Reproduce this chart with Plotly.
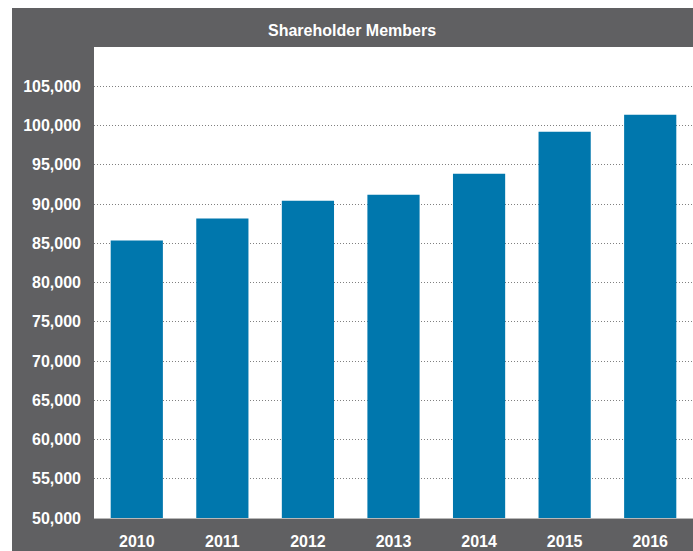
import plotly.graph_objects as go

years = ["2010", "2011", "2012", "2013", "2014", "2015", "2016"]
members = [85340, 88140, 90420, 91180, 93860, 99200, 101360]
tick_values = [50000, 55000, 60000, 65000, 70000, 75000, 80000, 85000,
               90000, 95000, 100000, 105000]
tick_labels = [f"{v:,}" for v in tick_values]
title_text = "Shareholder Members"

FRAME = "#606062"
BAR = "#0077ad"
FONT = "Liberation Sans, Arial, sans-serif"

W, H = 693, 551
L, R, T, B = 94, 0, 47, 33
pw, ph = W - L - R, H - T - B


def px_x(p):
    return (p - L) / pw


def px_y(p):
    return (H - B - p) / ph


fig = go.Figure(go.Bar(
    x=years, y=members, marker=dict(color=BAR, line=dict(width=0)),
    hoverinfo="x+y",
))

# dark frame, then the white plotting panel on top of it
fig.add_shape(type="rect", xref="paper", yref="paper",
              x0=px_x(12), x1=px_x(W + 2), y0=px_y(H + 2), y1=px_y(8),
              fillcolor=FRAME, line=dict(width=0), layer="below")
fig.add_shape(type="rect", xref="paper", yref="paper",
              x0=0, x1=1, y0=0, y1=1,
              fillcolor="white", line=dict(width=0), layer="below")

fig.add_annotation(text=f"<b>{title_text}</b>", xref="paper", yref="paper",
                   x=px_x(352), y=px_y(30), showarrow=False,
                   font=dict(family=FONT, size=16, color="white"),
                   xanchor="center", yanchor="middle")

fig.update_layout(
    width=W, height=H,
    margin=dict(l=L, r=R, t=T, b=B),
    paper_bgcolor="white", plot_bgcolor="white",
    bargap=0.39, showlegend=False,
    font=dict(family=FONT, color="white"),
)
fig.update_yaxes(
    range=[50000, 110000], tickvals=tick_values,
    ticktext=[f"<b>{t}</b>" for t in tick_labels],
    tickfont=dict(size=16, color="white", family=FONT),
    showgrid=True, gridcolor="#808080", griddash="1px,2px", gridwidth=1,
    zeroline=False, showline=False, ticks="", ticklabelstandoff=12,
)
fig.update_xaxes(
    tickvals=years, ticktext=[f"<b>{y}</b>" for y in years],
    tickfont=dict(size=16, color="white", family=FONT),
    showgrid=False, showline=True, linecolor="#b8b8b8", linewidth=1,
    ticks="", ticklabelstandoff=9,
)

fig.write_html("out.html")
